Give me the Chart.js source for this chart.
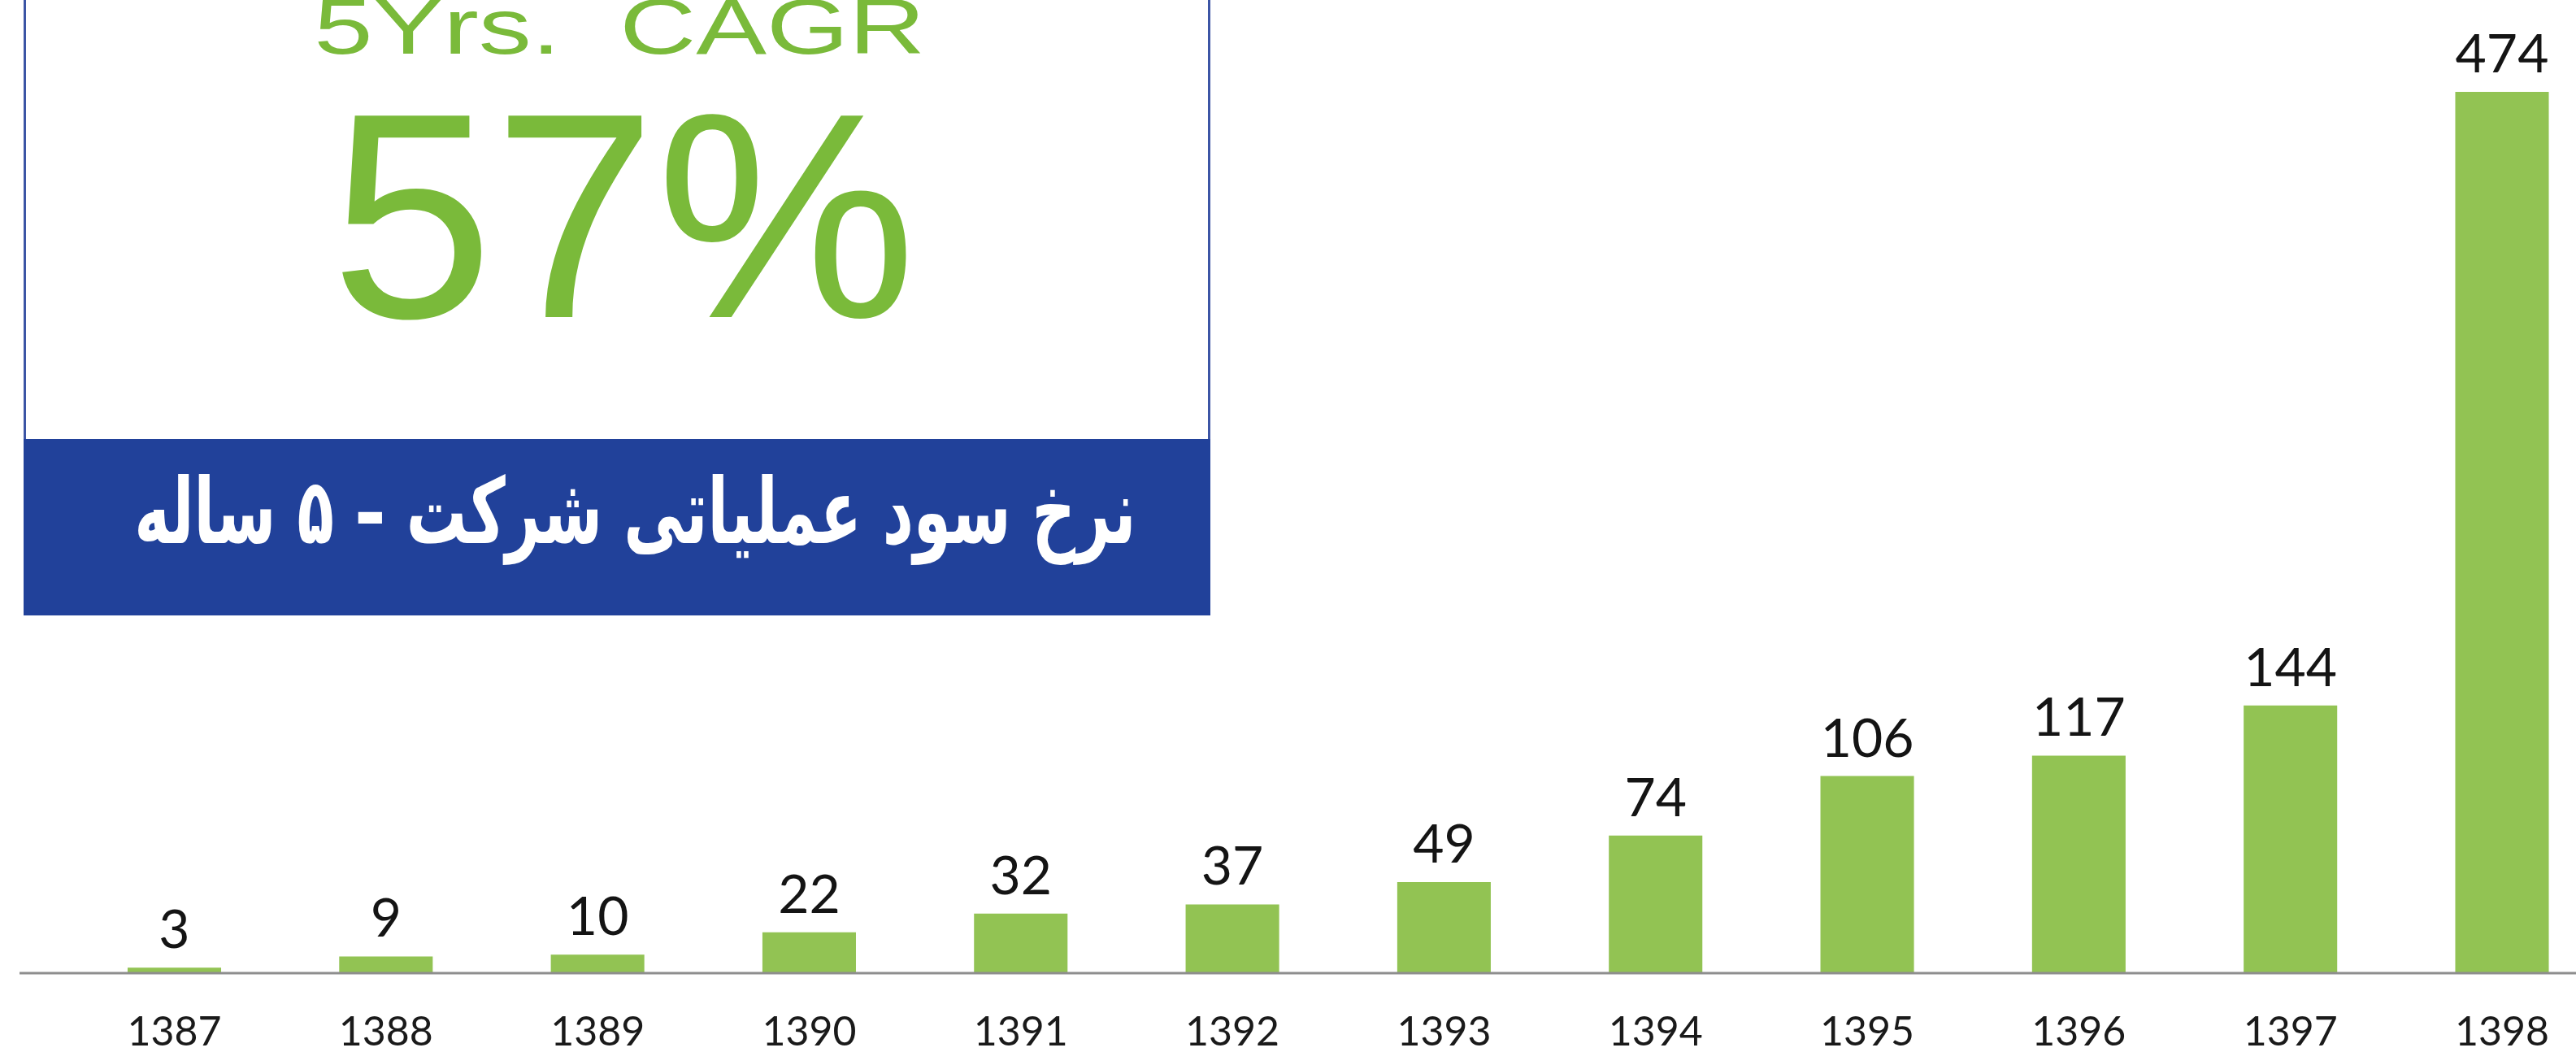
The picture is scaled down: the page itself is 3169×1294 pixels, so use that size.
<!DOCTYPE html>
<html>
<head>
<meta charset="utf-8">
<script src="https://cdn.jsdelivr.net/npm/chart.js@4.4.1/dist/chart.umd.min.js"></script>
<style>
  html, body { margin: 0; padding: 0; background: #ffffff; overflow: hidden; }
  #wrap { position: relative; width: 3169px; height: 1294px; overflow: hidden; }
  #chart { position: absolute; left: 0; top: 0; }
  #box { position: absolute; left: 29px; top: -20px; width: 1460px; height: 777px;
         box-sizing: border-box; border: 3px solid #3c55a5; background: #ffffff; }
  #band { position: absolute; left: 29px; top: 540px; width: 1460px; height: 217px; background: #21419a; }
  .t { position: absolute; white-space: pre; text-align: center; }
  #cagr { left: -238px; width: 2000px; top: -16px; font: 97px/1 "Liberation Sans", Arial, sans-serif; color: #7aba3a; }
  #pct { left: 267px; width: 1000px; top: 85px; font: 360px/1 "Liberation Sans", Arial, sans-serif; color: #7aba3a; }
  #fa { left: -419px; width: 2400px; top: 573px; font: bold 112px/1 "DejaVu Sans", sans-serif; color: #ffffff; direction: rtl; }
</style>
</head>
<body>
<div id="wrap">
  <canvas id="chart" width="3169" height="1294"></canvas>
  <div id="box"></div>
  <div id="band"></div>
  <div class="t" id="cagr"><span id="cagrIn">5Yrs.  CAGR</span></div>
  <div class="t" id="pct">57%</div>
  <div class="t" id="fa"><span id="faIn">نرخ سود عملیاتی شرکت – ۵ ساله</span></div>
</div>
<script>
const categories = ['1387','1388','1389','1390','1391','1392','1393','1394','1395','1396','1397','1398'];
const values = [3, 9, 10, 22, 32, 37, 49, 74, 106, 117, 144, 474];

// stretch headline texts to their measured widths in the reference
function fitWidth(spanId, target) {
  const s = document.getElementById(spanId);
  s.style.display = 'inline-block';
  const w = s.getBoundingClientRect().width;
  s.style.transform = 'scaleX(' + (target / w) + ')';
}
fitWidth('cagrIn', 752);
fitWidth('faIn', 1232);

const baseline = {
  id: 'baseline',
  afterDatasetsDraw(chart) {
    const ctx = chart.ctx;
    const y = chart.scales.y.getPixelForValue(0);
    ctx.save();
    ctx.strokeStyle = '#8e8e8e';
    ctx.lineWidth = 3;
    ctx.beginPath();
    ctx.moveTo(24, y);
    ctx.lineTo(chart.width, y);
    ctx.stroke();
    // value labels
    const meta = chart.getDatasetMeta(0);
    ctx.fillStyle = '#141414';
    ctx.font = '66px Lato, "Open Sans", sans-serif';
    ctx.textAlign = 'center';
    ctx.textBaseline = 'alphabetic';
    meta.data.forEach((bar, i) => {
      ctx.fillText(String(values[i]), bar.x, bar.y - 24);
    });
    ctx.restore();
  }
};

new Chart(document.getElementById('chart'), {
  type: 'bar',
  data: {
    labels: categories,
    datasets: [{
      data: values,
      backgroundColor: '#92c353',
      borderWidth: 0,
      barPercentage: 0.442,
      categoryPercentage: 1,
      clip: false
    }]
  },
  options: {
    responsive: false,
    animation: false,
    layout: { padding: { left: 214.5, right: 91, top: 0, bottom: 0 } },
    plugins: { legend: { display: false }, tooltip: { enabled: false } },
    scales: {
      x: {
        offset: false,
        grid: { display: false, drawTicks: false },
        border: { display: false },
        ticks: {
          color: '#1a1a1a',
          font: { family: 'Lato, "Open Sans", sans-serif', size: 50 },
          padding: 43,
          maxRotation: 0,
          autoSkip: false
        },
        afterFit(scale) {
          scale.height = 97;
          scale.paddingLeft = 0;
          scale.paddingRight = 0;
        }
      },
      y: { display: false, min: 0, max: 523.4 }
    }
  },
  plugins: [baseline]
});
</script>
</body>
</html>
